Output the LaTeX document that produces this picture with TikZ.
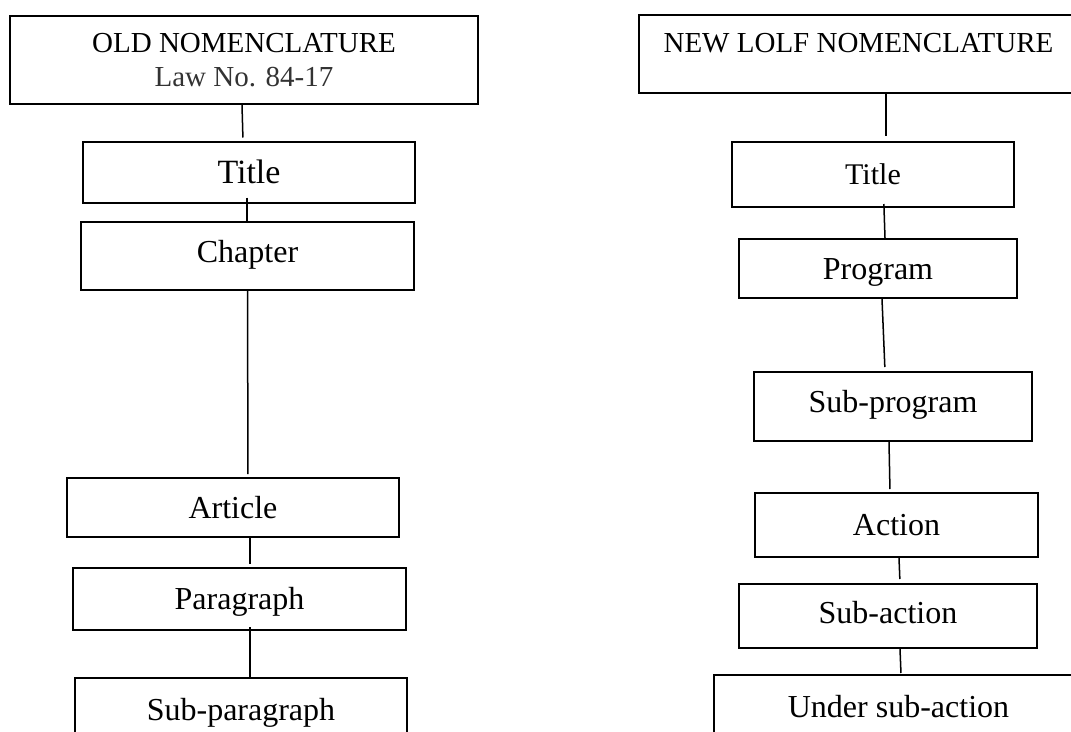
\documentclass[tikz,border=0pt]{standalone}
\usepackage{fontspec}
\setmainfont{Liberation Serif}

\begin{document}
\begin{tikzpicture}[x=1pt, y=-1pt,
    box/.style={draw, line width=2pt, inner sep=0pt, font=\fontsize{32}{38}\selectfont},
    one/.style={text height=21pt, text depth=0pt},
    link/.style={line width=1.5pt}]

\useasboundingbox (0,0) rectangle (1071,731);
\clip (0,0) rectangle (1071,731);

% Old nomenclature (left column)
\node[box, minimum width=468pt, minimum height=88pt, align=center, font=\fontsize{29}{34}\selectfont] (oldhead) at (244,60) {OLD NOMENCLATURE\\\textcolor{black!80}{Law No. 84-17}};
\node[box, one, minimum width=332pt, minimum height=61pt, text height=23pt, font=\fontsize{34}{40}\selectfont] (otitle) at (249,172) {Title};
\node[box, one, minimum width=333pt, minimum height=68pt, text depth=9pt] (ochap) at (247.5,256) {Chapter};
\node[box, one, minimum width=332pt, minimum height=59pt] (oart) at (233,507.5) {Article};
\node[box, one, minimum width=333pt, minimum height=62pt] (opara) at (239.5,599) {Paragraph};
\node[box, one, minimum width=332pt, minimum height=64pt] (osub) at (241,710) {Sub-paragraph};

% New LOLF nomenclature (right column)
\node[box, minimum width=439pt, minimum height=78pt, text height=20pt, text depth=23pt, font=\fontsize{29}{34}\selectfont] (newhead) at (858.5,54) {NEW LOLF NOMENCLATURE};
\node[box, one, minimum width=282pt, minimum height=65pt, text height=20pt, font=\fontsize{30}{36}\selectfont] (ntitle) at (873,174.5) {Title};
\node[box, one, minimum width=278pt, minimum height=59pt] (nprog) at (878,268.5) {Program};
\node[box, one, minimum width=278pt, minimum height=69pt, text depth=10pt] (nsubprog) at (893,406.5) {Sub-program};
\node[box, one, minimum width=283pt, minimum height=64pt] (naction) at (896.5,525) {Action};
\node[box, one, minimum width=298pt, minimum height=64pt, text depth=7pt] (nsubact) at (888,616) {Sub-action};
\node[box, one, minimum width=369pt, minimum height=64pt] (nunder) at (898.5,707) {Under sub-action};

% links
\draw[link, shorten >=3pt] ([xshift=-2pt]oldhead.south) -- ([xshift=-6pt]otitle.north);
\draw[link, shorten <=-6pt] ([xshift=-2pt]otitle.south) -- ([xshift=-0.5pt]ochap.north);
\draw[link, shorten >=3pt] (ochap.south) -- ([xshift=15pt]oart.north);
\draw[link, shorten <=-2pt, shorten >=3pt] ([xshift=17pt]oart.south) -- ([xshift=10.5pt]opara.north);
\draw[link, shorten <=-4pt] ([xshift=10.5pt]opara.south) -- ([xshift=9pt]osub.north);

\draw[link, shorten >=5pt] ([xshift=27.5pt]newhead.south) -- ([xshift=13pt]ntitle.north);
\draw[link, shorten <=-4pt] ([xshift=11pt]ntitle.south) -- ([xshift=7pt]nprog.north);
\draw[link, shorten >=4pt] ([xshift=4pt]nprog.south) -- ([xshift=-8pt]nsubprog.north);
\draw[link, shorten >=3pt] ([xshift=-4pt]nsubprog.south) -- ([xshift=-6.5pt]naction.north);
\draw[link, shorten >=4pt] ([xshift=2.5pt]naction.south) -- ([xshift=12pt]nsubact.north);
\draw[link, shorten >=1pt] ([xshift=12pt]nsubact.south) -- ([xshift=2.5pt]nunder.north);
\end{tikzpicture}
\end{document}
